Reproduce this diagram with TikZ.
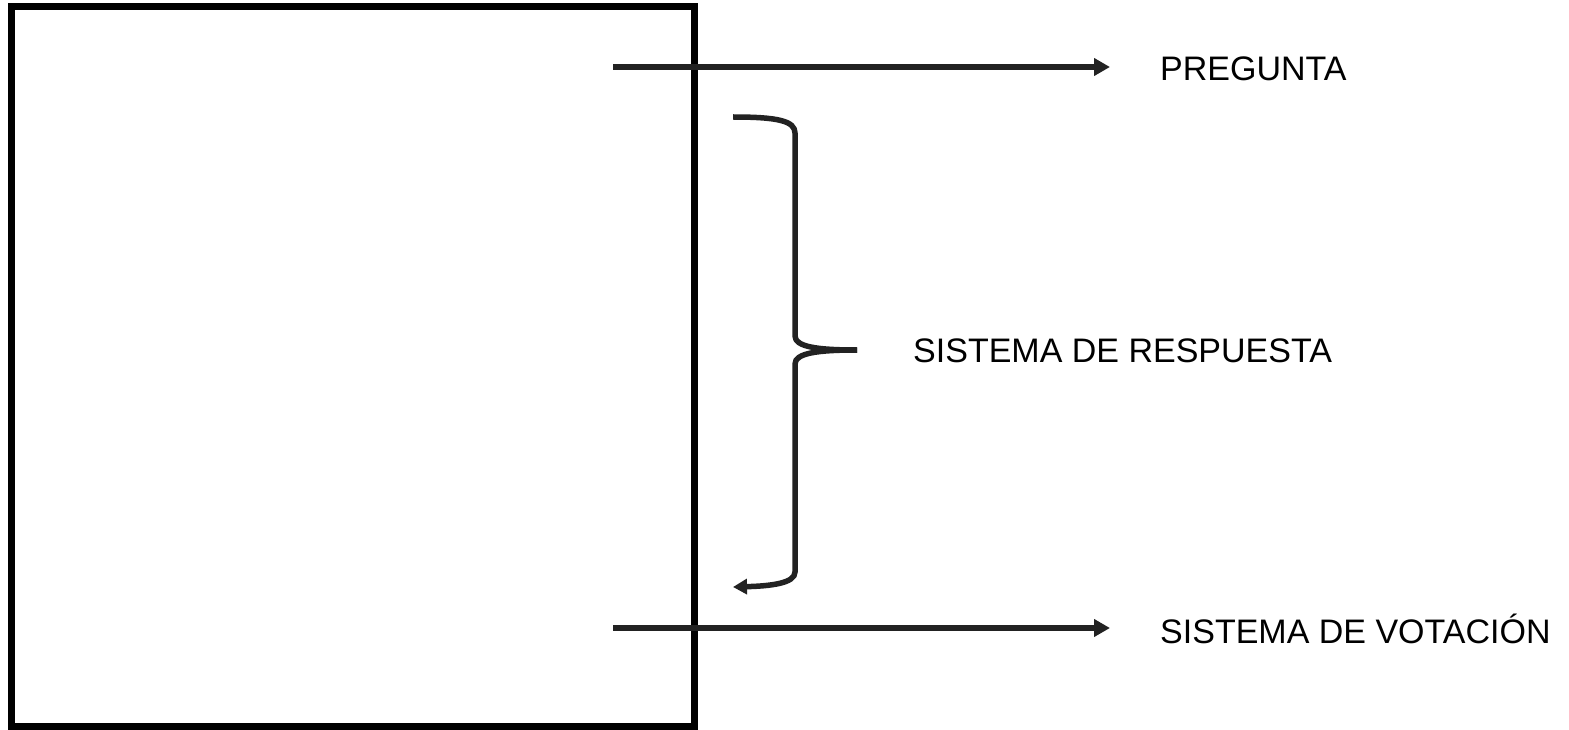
\documentclass[tikz,border=0pt]{standalone}
\usepackage{fontspec}
\setmainfont{Liberation Sans}
\usetikzlibrary{arrows.meta}
\definecolor{ink}{HTML}{222222}
\tikzset{
  frame/.style={draw=black, line width=7pt},
  conn/.style={draw=ink, line width=5.5pt},
  arr/.style={conn, -{Triangle[length=16pt,width=17pt]}},
  lbl/.style={anchor=west, inner sep=0pt, font=\fontsize{34}{40}\selectfont, text=black}
}
\begin{document}
\begin{tikzpicture}[x=1pt,y=-1pt]
\useasboundingbox (0,0) rectangle (1569,730);
% box
\draw[frame] (11,7) rectangle (694,726);
% labels
\node[lbl] (preg) at (1160,69) {PREGUNTA};
\node[lbl] (resp) at (913,351) {SISTEMA DE RESPUESTA};
\node[lbl] (vot) at (1160,629) {SISTEMA DE VOTACIÓN};
% arrows
\coordinate (a1) at (613,67);
\coordinate (a2) at (613,628);
\draw[arr] (a1) -- ([xshift=-50pt]preg.west |- a1);
\draw[arr] (a2) -- ([xshift=-50pt]vot.west |- a2);
% brace
\coordinate (btop) at (733,117);
\coordinate (btip) at (857,350);
\coordinate (bbot) at (733,587);
\draw[conn, line join=round] (btop) .. controls (778,117) and (795,121) .. (795,133)
  -- (795,336) .. controls (795,347) and (818,350) .. (btip);
\draw[conn, -{Triangle[length=14pt,width=15pt]}] (btip) .. controls (818,350) and (795,353) .. (795,364)
  -- (795,572) .. controls (795,583) and (772,586) .. (bbot);
\end{tikzpicture}
\end{document}
